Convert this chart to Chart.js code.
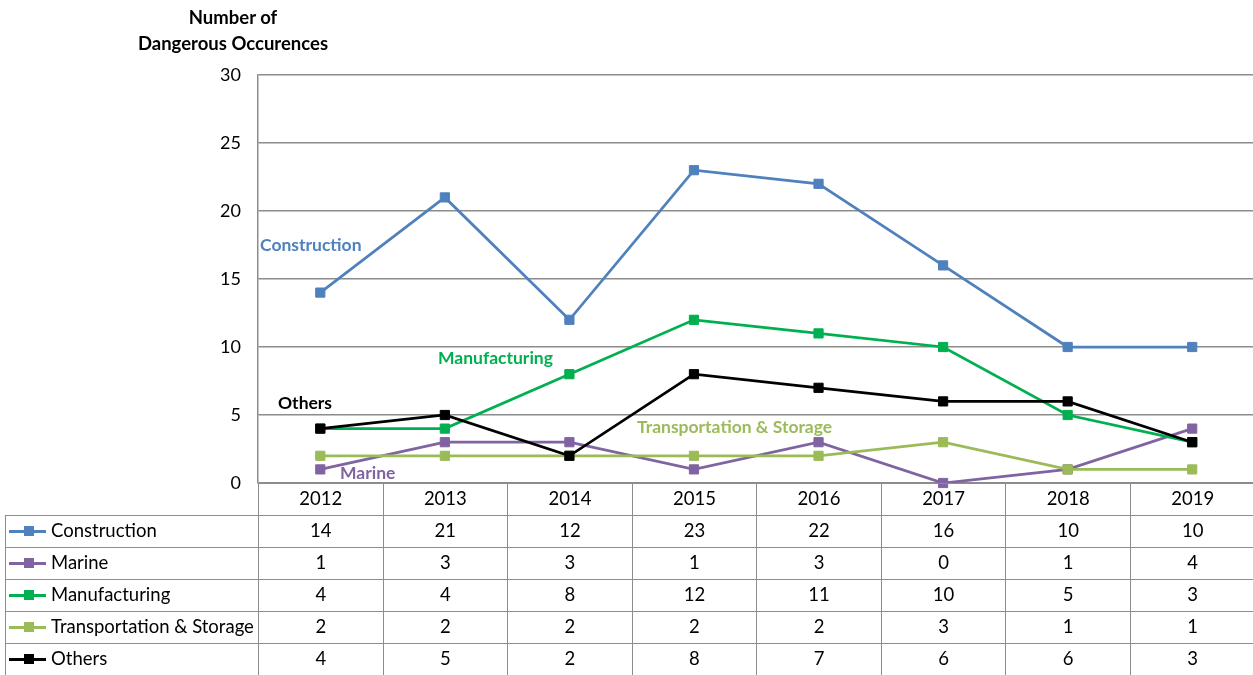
<!DOCTYPE html>
<html lang="en">
<head>
    <meta charset="UTF-8">
    <title>Number of Dangerous Occurences</title>
    <script src="https://cdn.jsdelivr.net/npm/chart.js"></script>
    <style>
        * {
            margin: 0;
            padding: 0;
            box-sizing: border-box;
        }

        body {
            width: 1253px;
            height: 675px;
            overflow: hidden;
            background: #fff;
            font-family: Lato, "Noto Sans", sans-serif;
        }

        .wrap {
            position: relative;
            width: 1262px;
            height: 675px;
        }

        .y-title {
            position: absolute;
            left: 113px;
            top: 4px;
            width: 240px;
            text-align: center;
            font-weight: bold;
            font-size: 18.5px;
            line-height: 26px;
            color: #000;
        }

        .tag {
            position: absolute;
            font-weight: bold;
            font-size: 17.5px;
            white-space: nowrap;
        }

        table {
            position: absolute;
            left: 5px;
            top: 483px;
            border-collapse: collapse;
            table-layout: fixed;
            font-size: 18.5px;
            color: #000;
        }

        td {
            height: 32px;
            border: 1.5px solid #8c8c8c;
            text-align: center;
            padding: 0 0 3px 0;
            white-space: nowrap;
        }

        td.name {
            text-align: left;
            padding-left: 3px;
        }

        td.blank {
            border-top: none;
            border-left: none;
        }

        .key {
            display: inline-block;
            position: relative;
            width: 37px;
            height: 10px;
            vertical-align: middle;
            margin-right: 5px;
            margin-top: -2px;
        }

        .key .ln {
            position: absolute;
            left: 0;
            right: 0;
            top: 4px;
            height: 2.5px;
        }

        .key .sq {
            position: absolute;
            left: 15px;
            top: 0;
            width: 10px;
            height: 10px;
        }
    </style>
</head>
<body>
    <div class="wrap" id="wrap">
        <canvas id="occChart" width="1262" height="675"></canvas>
        <div class="y-title">Number of<br>Dangerous Occurences</div>
        <div class="tag" style="left:260px; top:234px; color:#4f81bd;">Construction</div>
        <div class="tag" style="left:438px; top:347px; color:#00b050;">Manufacturing</div>
        <div class="tag" style="left:278px; top:392px; color:#000;">Others</div>
        <div class="tag" style="left:637px; top:416px; color:#9bbb59;">Transportation &amp; Storage</div>
        <div class="tag" style="left:340px; top:462px; color:#8064a2;">Marine</div>
    </div>

    <script>
        const years = ['2012', '2013', '2014', '2015', '2016', '2017', '2018', '2019'];
        const seriesNames = ['Construction', 'Marine', 'Manufacturing', 'Transportation & Storage', 'Others'];
        const seriesColors = ['#4f81bd', '#8064a2', '#00b050', '#9bbb59', '#000000'];

        const construction = [14, 21, 12, 23, 22, 16, 10, 10];
        const marine = [1, 3, 3, 1, 3, 0, 1, 4];
        const manufacturing = [4, 4, 8, 12, 11, 10, 5, 3];
        const transportStorage = [2, 2, 2, 2, 2, 3, 1, 1];
        const others = [4, 5, 2, 8, 7, 6, 6, 3];

        const seriesValues = [construction, marine, manufacturing, transportStorage, others];
        const yTicks = [0, 5, 10, 15, 20, 25, 30];

        window.onload = function() {
            const chart = loadChart();
            buildTable(chart);
        };

        function loadChart() {
            const ctx = document.getElementById('occChart').getContext('2d');
            return new Chart(ctx, {
                type: 'line',
                data: {
                    labels: years,
                    datasets: seriesNames.map((name, i) => ({
                        label: name,
                        data: seriesValues[i],
                        borderColor: seriesColors[i],
                        backgroundColor: seriesColors[i],
                        borderWidth: 2.75,
                        pointStyle: 'rect',
                        pointRadius: 6.5,
                        pointBorderWidth: 1,
                        pointBorderColor: seriesColors[i],
                        pointBackgroundColor: seriesColors[i],
                        tension: 0,
                        fill: false,
                        clip: false,
                        order: seriesNames.length - i
                    }))
                },
                options: {
                    responsive: false,
                    animation: false,
                    layout: {
                        padding: { top: 75, bottom: 192, left: 0, right: 2 }
                    },
                    plugins: {
                        legend: { display: false },
                        tooltip: { enabled: false }
                    },
                    scales: {
                        x: {
                            display: false,
                            offset: true
                        },
                        y: {
                            min: 0,
                            max: 30,
                            afterFit: function(scale) {
                                scale.width = 258;
                            },
                            afterBuildTicks: function(scale) {
                                scale.ticks = yTicks.map(v => ({ value: v }));
                            },
                            grid: {
                                color: '#8c8c8c',
                                lineWidth: 1.5,
                                drawTicks: false
                            },
                            border: {
                                color: '#8c8c8c',
                                width: 1.5
                            },
                            ticks: {
                                padding: 17,
                                color: '#000',
                                font: { family: 'Lato', size: 18 }
                            }
                        }
                    }
                }
            });
        }

        function buildTable(chart) {
            const area = chart.chartArea;
            const colW = (area.right - area.left) / years.length;
            const table = document.createElement('table');
            const colgroup = document.createElement('colgroup');
            const first = document.createElement('col');
            first.style.width = (area.left - 5) + 'px';
            colgroup.appendChild(first);
            years.forEach(() => {
                const c = document.createElement('col');
                c.style.width = colW + 'px';
                colgroup.appendChild(c);
            });
            table.appendChild(colgroup);
            table.style.width = (area.left - 5 + colW * years.length) + 'px';

            const head = document.createElement('tr');
            head.innerHTML = '<td class="blank"></td>' + years.map(y => '<td>' + y + '</td>').join('');
            table.appendChild(head);

            seriesNames.forEach((name, i) => {
                const tr = document.createElement('tr');
                const key = '<span class="key"><span class="ln" style="background:' + seriesColors[i] +
                    '"></span><span class="sq" style="background:' + seriesColors[i] + '"></span></span>';
                tr.innerHTML = '<td class="name">' + key + name.replace('&', '&amp;') + '</td>' +
                    seriesValues[i].map(v => '<td>' + v + '</td>').join('');
                table.appendChild(tr);
            });

            document.getElementById('wrap').appendChild(table);
        }
    </script>
</body>
</html>
